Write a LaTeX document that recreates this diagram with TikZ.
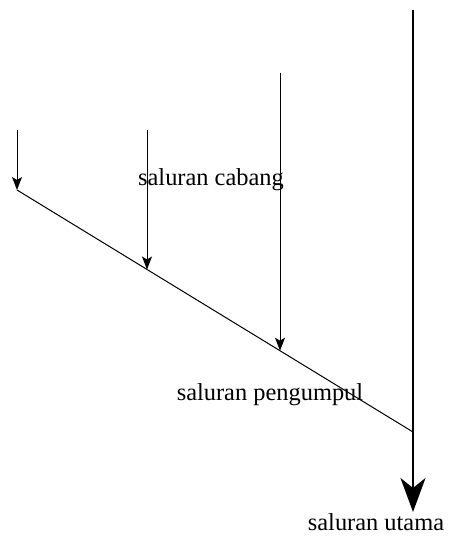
\documentclass[tikz,border=0pt]{standalone}
\usepackage{fontspec}
\setmainfont{Liberation Serif}
\usetikzlibrary{arrows.meta}
\begin{document}
\begin{tikzpicture}[x=1bp,y=-1bp,
  lbl/.style={font=\fontsize{24.5}{26}\selectfont, inner sep=0pt},
  branch/.style={line width=1bp, -{Stealth[length=13bp,width=10bp,inset=3bp]}},
  mainflow/.style={line width=2.4bp, -{Stealth[length=34bp,width=25bp,inset=10bp]}},
  collector/.style={line width=1bp}]
\useasboundingbox (0,0) rectangle (449,537);
\coordinate (m0) at (413,10);
\coordinate (m1) at (413,512);
\coordinate (d0) at (17,190);
\coordinate (d1) at (413,432);
\coordinate (a0) at (17,130);
\coordinate (b0) at (147,130);
\coordinate (b1) at (147,269.5);
\coordinate (c0) at (280,73);
\coordinate (c1) at (280,350.7);
\draw[collector] (d0) -- (d1);
\draw[branch] (a0) -- (d0);
\draw[branch] (b0) -- (b1);
\draw[branch] (c0) -- (c1);
\draw[mainflow] (m0) -- (m1);
\node[lbl] (cabang) at (211,180) {saluran cabang};
\node[lbl] (pengumpul) at (270,395) {saluran pengumpul};
\node[lbl] (utama) at (376,522) {saluran utama};
\end{tikzpicture}
\end{document}
